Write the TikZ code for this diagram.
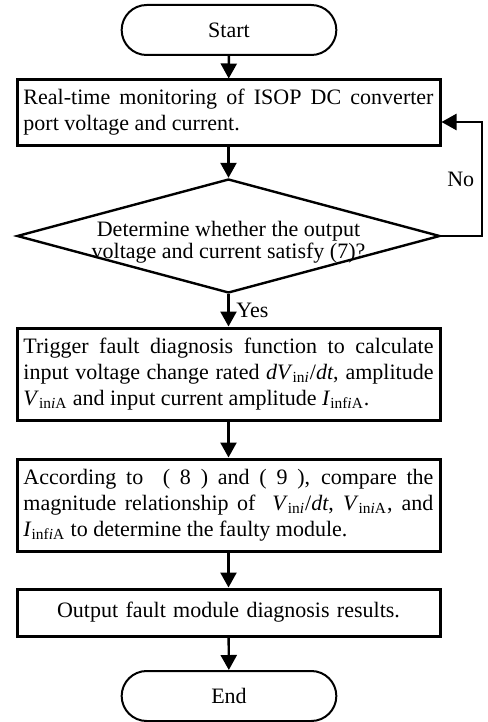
\documentclass[tikz,border=0pt]{standalone}
\usepackage{fontspec}
\setmainfont{Liberation Serif}
\usetikzlibrary{arrows.meta,shapes.geometric,shapes.misc}
\newcommand{\sbs}[1]{\textsubscript{#1}}
\begin{document}
\begin{tikzpicture}[x=0.5pt,y=-0.5pt, % une unite = un pixel de l'image
  boite/.style={draw,line width=1.5pt,minimum width=211.5pt,text width=205pt,align=justify,inner xsep=3pt,inner ysep=0pt,font=\fontsize{11}{13}\selectfont},
  terminal/.style={draw,rounded rectangle,line width=1pt,minimum width=114pt,minimum height=25pt,font=\fontsize{11}{13}\selectfont},
  fleche/.style={line width=1.2pt,-{Triangle[length=7.5pt,width=8pt]}}]
\useasboundingbox (0,0) rectangle (487,722); % le cadre de l'image
\node[terminal] (start) at (229,30) {Start};
\node[boite,minimum height=32.5pt] (mesure) at (228.5,112.5) {Real-time monitoring of ISOP DC converter\linebreak port voltage and current.};
\node[draw,diamond,line width=1.2pt,minimum width=211.5pt,minimum height=57pt,aspect=3.7,inner sep=-4pt,align=center,font=\fontsize{11}{10}\selectfont] (test) at (228.5,236) {\rule{0pt}{14pt}Determine whether the output\\voltage and current satisfy (7)?};
\node[boite,minimum height=46pt] (diag) at (228.5,374) {Trigger fault diagnosis function to calculate\linebreak input voltage change rated \textit{dV}\sbs{in\textit{i}}/\textit{dt}, amplitude\linebreak \textit{V}\sbs{in\textit{i}A} and input current amplitude \textit{I}\sbs{inf\textit{i}A}.};
\node[boite,minimum height=46pt] (compare) at (228.5,505) {According to\ \ ( 8 ) and ( 9 ), compare the\linebreak magnitude relationship of\ \ \textit{V}\sbs{in\textit{i}}/\textit{dt}, \textit{V}\sbs{in\textit{i}A}, and\linebreak \textit{I}\sbs{inf\textit{i}A} to determine the faulty module.};
\node[boite,minimum height=23.5pt,align=center] (sortie) at (228.5,612.5) {Output fault module diagnosis results.};
\node[terminal] (end) at (229,696) {End};
\coordinate (retour) at (482,122); % le coin du retour
\draw[fleche] (start) -- (mesure);
\draw[fleche] (mesure) -- (test);
\draw[fleche] (test.east) -| (retour) node[pos=0.75,left,font=\fontsize{11}{13}\selectfont] {No} -- (mesure.east |- retour);
\draw[fleche] (test) -- node[right,font=\fontsize{11}{13}\selectfont] {Yes} (diag);
\draw[fleche] (diag) -- (compare);
\draw[fleche] (compare) -- (sortie);
\draw[fleche] (sortie) -- (end);
\end{tikzpicture}
\end{document}
